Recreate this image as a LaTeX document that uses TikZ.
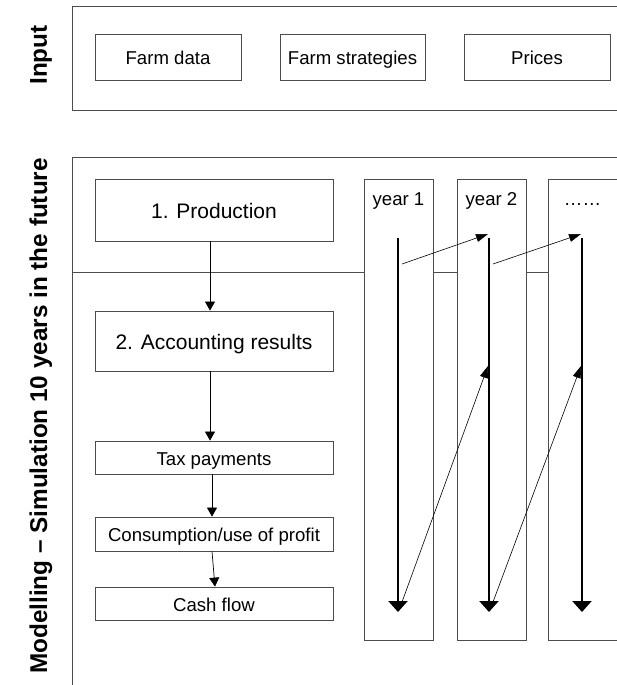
\documentclass[tikz,border=0pt]{standalone}
\usepackage{fontspec}
\setmainfont{Liberation Sans}
\usetikzlibrary{arrows.meta}

\tikzset{
  box/.style={draw=black!70, line width=0.8pt, inner sep=0pt,
    text height=15pt, text depth=0pt, font=\fontsize{18.6}{22}\selectfont},
  bigbox/.style={box, text height=16pt, font=\fontsize{21}{25}\selectfont},
  frame/.style={draw=black!70, line width=0.8pt},
  side/.style={rotate=90, font=\fontsize{24.3}{28}\selectfont\bfseries},
  flow/.style={-{Triangle[width=10pt,length=9pt]}, line width=0.7pt},
  yearline/.style={-{Triangle[width=19pt,length=11pt]}, line width=2.2pt},
  carry/.style={-{Triangle[width=8pt,length=12pt]}, line width=0.6pt}
}

\begin{document}
\begin{tikzpicture}[x=1pt,y=-1pt]
  \useasboundingbox (0,0) rectangle (616,685);

  % input part
  \draw[frame] (72,6) rectangle (640,110);
  \node[side] (inlab) at (41,55) {Input};
  \node[box, minimum width=146pt, minimum height=46pt] (farm) at (168,57) {Farm data};
  \node[box, minimum width=145pt, minimum height=46pt] (strat) at (352.5,57) {Farm strategies};
  \node[box, minimum width=146pt, minimum height=46pt] (prices) at (537,57) {Prices};

  % modelling part
  \draw[frame] (72,157) rectangle (640,720);
  \draw[frame] (72,272) -- (640,272);
  \node[side] (modlab) at (41,416) {Modelling -- Simulation 10 years in the future};

  \node[bigbox, minimum width=238pt, minimum height=62pt] (prod) at (214,210) {1. Production};
  \node[bigbox, minimum width=238pt, minimum height=60pt] (acc) at (214,341) {2. Accounting results};
  \node[box, minimum width=238pt, minimum height=33pt] (tax) at (214,457.5) {Tax payments};
  \node[box, minimum width=238pt, minimum height=34pt] (cons) at (214,534) {Consumption/use of profit};
  \node[box, minimum width=238pt, minimum height=33pt] (cash) at (214,603.5) {Cash flow};

  \draw[flow] ([xshift=-4pt]prod.south) -- ([xshift=-4pt]acc.north);
  \draw[flow] ([xshift=-4pt]acc.south) -- ([xshift=-4pt]tax.north);
  \draw[flow] ([xshift=-2pt]tax.south) -- ([xshift=-2pt]cons.north);
  \draw[flow] ([xshift=-2pt]cons.south) -- ([xshift=1pt]cash.north);

  % years
  \foreach \i/\c/\l/\lab in {1/398.5/398/year 1, 2/491.5/489/year 2, 3/582.5/582/……}{
    \draw[frame, fill=white] (\c-34.5,179) rectangle (\c+34.5,640);
    \node[anchor=base, font=\fontsize{18.6}{22}\selectfont] (yr\i) at (\c,205) {\lab};
    \coordinate (top\i) at (\l,238);
    \coordinate (bot\i) at (\l,612);
    \coordinate (out\i) at (\l+4,264);
    \coordinate (in\i) at (\l-1,234);
    \coordinate (low\i) at (\l+4,602);
    \coordinate (up\i) at (\l-1,366);
    \draw[yearline] (top\i) -- (bot\i);
  }
  \draw[carry] (out1) -- (in2);
  \draw[carry] (out2) -- (in3);
  \draw[carry] (low1) -- (up2);
  \draw[carry] (low2) -- (up3);
\end{tikzpicture}
\end{document}
